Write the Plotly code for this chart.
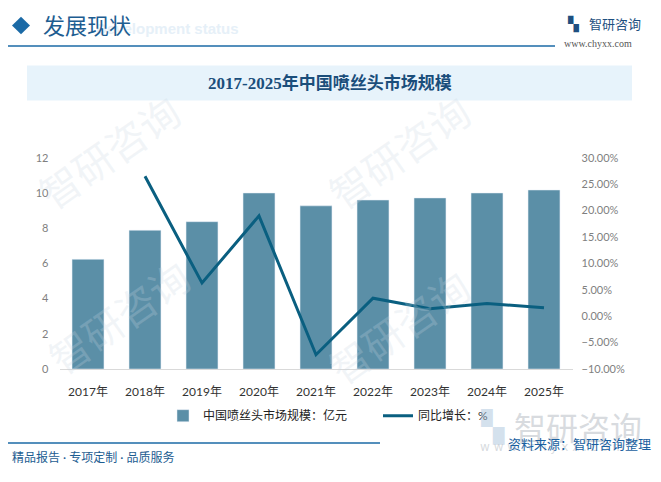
import plotly.graph_objects as go

anos = ["2017年", "2018年", "2019年", "2020年", "2021年", "2022年", "2023年", "2024年", "2025年"]
mercado = [6.23, 7.88, 8.37, 10.0, 9.27, 9.6, 9.72, 10.0, 10.17]
crescimento = [None, 0.265, 0.063, 0.19, -0.073, 0.034, 0.014, 0.024, 0.016]

W, H = 661, 482
azul_barra = "#5b8fa7"
azul_linha = "#0a5f80"
azul_texto = "#1d5d91"
fonte = "Lato, Noto Sans CJK SC, sans-serif"


def px(x):
    return x / W


def py(y):
    return 1 - y / H


def texto(x, y, t, tam, cor, familia=fonte, xanchor="left", angulo=0):
    return dict(x=px(x), y=py(y), xref="paper", yref="paper", text=t, showarrow=False,
                xanchor=xanchor, yanchor="middle", textangle=angulo,
                font=dict(size=tam, color=cor, family=familia))


fig = go.Figure()

fig.add_trace(go.Bar(
    x=anos, y=mercado, name="中国喷丝头市场规模：亿元",
    marker_color=azul_barra, yaxis="y"
))

fig.add_trace(go.Scatter(
    x=anos, y=crescimento, name="同比增长：%",
    mode="lines", line=dict(color=azul_linha, width=3), yaxis="y2"
))

shapes = [
    # faixa do titulo
    dict(type="rect", xref="paper", yref="paper", x0=px(27), x1=px(632), y0=py(96), y1=py(60),
         fillcolor="#e7f3fb", line_width=0, layer="below"),
    # losango do cabecalho
    dict(type="path", xref="paper", yref="paper",
         path=f"M {px(12)} {py(19)} L {px(21)} {py(10)} L {px(30)} {py(19)} L {px(21)} {py(28)} Z",
         fillcolor="#1b6aa6", line_width=0),
    dict(type="line", xref="paper", yref="paper", x0=px(8), x1=px(555), y0=py(40), y1=py(40),
         line=dict(color="#1b6aa6", width=1.5)),
    dict(type="line", xref="paper", yref="paper", x0=px(8), x1=px(380), y0=py(448), y1=py(448),
         line=dict(color="#1b6aa6", width=1.5)),
]

anotacoes = []

# marcas d'agua
for (x, y) in [(110, 150), (400, 150), (120, 320), (400, 330)]:
    anotacoes.append(texto(x, y, "智研咨询", 40, "rgba(200,214,226,0.25)", xanchor="center", angulo=-35))

anotacoes += [
    texto(241, 22, "<b>Development status</b>", 15, "#e6f0f8", "Liberation Sans", xanchor="right"),
    texto(41, 19, "发展现状", 22, azul_texto),
    texto(565, 17, "<b>▚</b>", 14, "#1e4f80", "DejaVu Sans"),
    texto(587, 17, "智研咨询", 13, "#1e4f80"),
    texto(562, 38, "www.chyxx.com", 10, "#555555", "Liberation Serif"),
    texto(330, 78, "<b>2017-2025年中国喷丝头市场规模</b>", 17, "#1b4e7b",
          "Liberation Serif, Noto Sans CJK SC", xanchor="center"),
    # marca do rodape
    texto(478, 432, "<b>▚</b>", 30, "rgba(170,195,220,0.5)", "DejaVu Sans"),
    texto(512, 432, "智研咨询", 32, "rgba(190,196,202,0.6)"),
    texto(478, 452, "w w w . c h y x x . c o m", 12, "rgba(190,196,202,0.6)", "DejaVu Sans"),
    texto(653, 449, "资料来源：智研咨询整理", 13, "#1a5fa0", xanchor="right"),
    texto(10, 463, "精品报告 · 专项定制 · 品质服务", 12, azul_texto),
]

fig.update_layout(
    width=W, height=H,
    margin=dict(l=0, r=0, t=0, b=0),
    paper_bgcolor="white", plot_bgcolor="rgba(0,0,0,0)",
    font=dict(family=fonte, size=12, color="#333333"),
    bargap=0.44,
    showlegend=True,
    legend=dict(orientation="h", x=px(163), y=py(420), xanchor="left", yanchor="middle",
                font=dict(size=12, color="#222222"), itemwidth=30, entrywidth=170,
                bgcolor="rgba(0,0,0,0)"),
    xaxis=dict(domain=[px(59.5), px(572.5)], showgrid=False, showline=True, linecolor="#d9d9d9",
               linewidth=1, ticks="", tickfont=dict(size=12, color="#333333"), ticklabelstandoff=12),
    yaxis=dict(domain=[py(372), py(155)], range=[0, 12], dtick=2, showgrid=False, zeroline=False,
               tickfont=dict(size=11, color="#7f7f7f"), ticklabelstandoff=10),
    yaxis2=dict(overlaying="y", side="right", range=[-0.10, 0.30], dtick=0.05, tickformat=".2%",
                showgrid=False, zeroline=False, tickfont=dict(size=11, color="#7f7f7f"),
                ticklabelstandoff=8),
    shapes=shapes,
    annotations=anotacoes,
)

fig.write_html("out.html", config={"displayModeBar": False},
               post_script="document.body.style.margin='0';")
